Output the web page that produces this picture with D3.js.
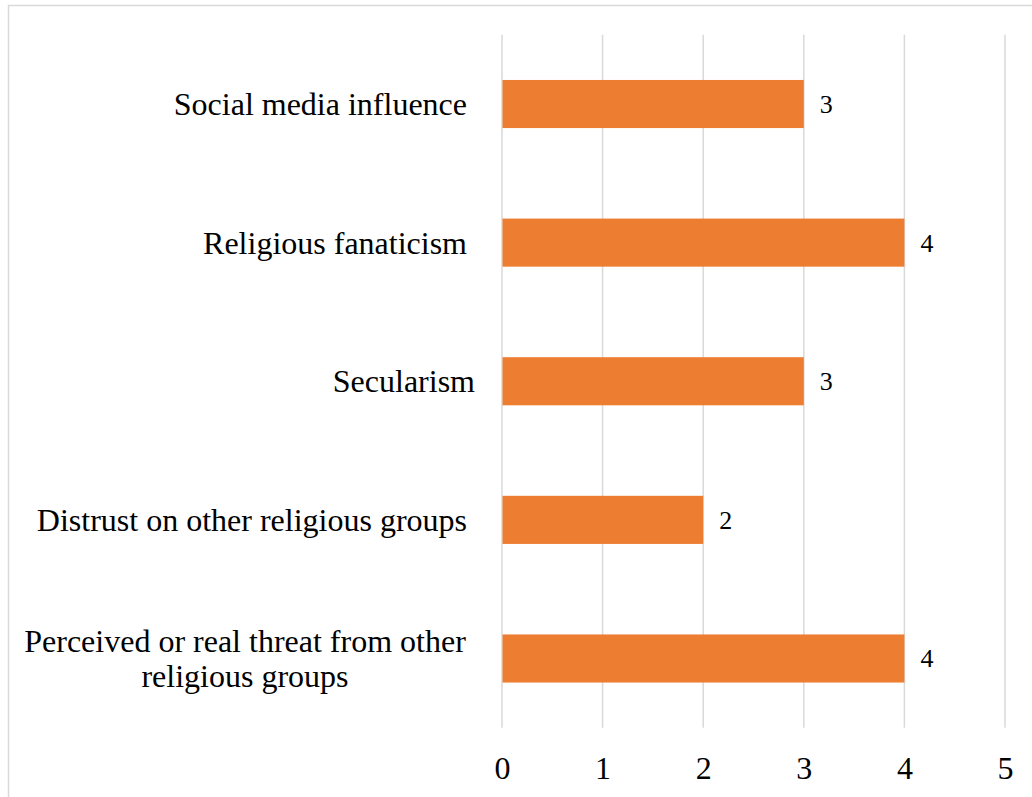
<!DOCTYPE html>
<html>
<head>
<meta charset="utf-8">
<script src="https://cdn.jsdelivr.net/npm/d3@7"></script>
<style>
  html, body { margin: 0; padding: 0; background: #fff; }
  svg { display: block; }
</style>
</head>
<body>
<svg id="chart" width="1032" height="797"></svg>
<script>
// Category labels as written in the source (some carry a trailing space)
const categories = [
  "Social media influence\u00a0",
  "Religious fanaticism\u00a0",
  "Secularism",
  "Distrust on other religious groups\u00a0",
  "Perceived or real threat from other|religious groups"
];
const values = [3, 4, 3, 2, 4];
const tickValues = [0, 1, 2, 3, 4, 5];

const svg = d3.select("#chart");
const W = 1032, H = 797;
const margin = { left: 502, right: 27, top: 34.7, bottom: 69.2 };
const font = "'Liberation Serif', 'Times New Roman', serif";

// chart border
svg.append("rect")
  .attr("x", 8.5).attr("y", 5.5)
  .attr("width", W + 10).attr("height", H + 10)
  .attr("fill", "none").attr("stroke", "#d9d9d9").attr("stroke-width", 1.5);

const x = d3.scaleLinear().domain([0, 5]).range([margin.left, W - margin.right]);
const y = d3.scaleBand().domain(categories)
  .range([margin.top, H - margin.bottom])
  .paddingInner(0.653).paddingOuter(0.3265);

// gridlines
svg.append("g").selectAll("line").data(tickValues).join("line")
  .attr("x1", d => x(d)).attr("x2", d => x(d))
  .attr("y1", margin.top).attr("y2", H - margin.bottom)
  .attr("stroke", "#d9d9d9").attr("stroke-width", 1.5);

// bars
svg.append("g").selectAll("rect").data(values).join("rect")
  .attr("x", x(0) + 0.5)
  .attr("y", (d, i) => y(categories[i]))
  .attr("width", d => x(d) - x(0) - 0.5)
  .attr("height", y.bandwidth())
  .attr("fill", "#ED7D31");

// value labels
svg.append("g").selectAll("text").data(values).join("text")
  .attr("x", d => x(d) + 16)
  .attr("y", (d, i) => y(categories[i]) + y.bandwidth() / 2 + 9)
  .attr("font-family", font).attr("font-size", 26).attr("fill", "#000")
  .text(d => d);

// x axis tick labels
const xAxis = d3.axisBottom(x).tickValues(tickValues).tickSize(0).tickPadding(0).tickFormat(d3.format("d"));
const gx = svg.append("g").attr("transform", `translate(0, ${H - margin.bottom})`).call(xAxis);
gx.select(".domain").remove();
gx.selectAll("text")
  .attr("font-family", font).attr("font-size", 32).attr("fill", "#000")
  .attr("dy", null).attr("y", 51);

// category labels
const labelG = svg.append("g");
categories.forEach((c, i) => {
  const lines = c.split("|");
  const cy = y(c) + y.bandwidth() / 2;
  if (lines.length === 1) {
    labelG.append("text")
      .attr("x", x(0) - 27).attr("y", cy + 11)
      .attr("text-anchor", "end")
      .attr("font-family", font).attr("font-size", 32).attr("fill", "#000")
      .style("white-space", "pre")
      .text(lines[0]);
  } else {
    const lh = 35;
    lines.forEach((l, j) => {
      labelG.append("text")
        .attr("x", 245).attr("y", cy + 11 + (j - (lines.length - 1) / 2) * lh)
        .attr("text-anchor", "middle")
        .attr("font-family", font).attr("font-size", 32).attr("fill", "#000")
        .text(l);
    });
  }
});
</script>
</body>
</html>
